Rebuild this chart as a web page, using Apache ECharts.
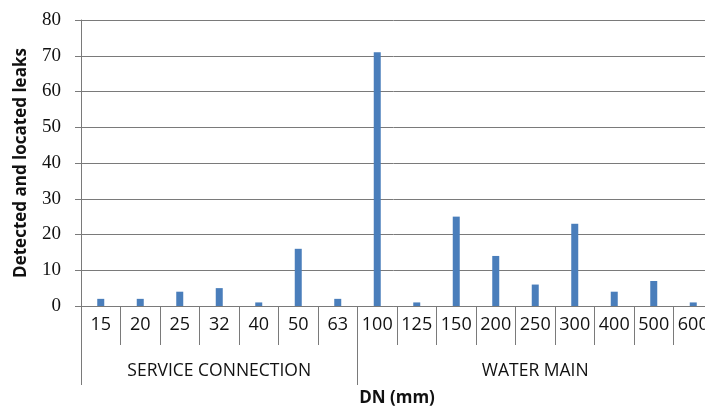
<!DOCTYPE html>
<html><head><meta charset="utf-8">
<script src="https://cdn.jsdelivr.net/npm/echarts@6/dist/echarts.min.js"></script>
<style>html,body{margin:0;padding:0;background:#fff;overflow:hidden}#c{width:705px;height:412px}</style>
</head><body><div id="c"></div>
<script>
const categories = ['15','20','25','32','40','50','63','100','125','150','200','250','300','400','500','600'];
const leaks = [2,2,4,5,1,16,2,71,1,25,14,6,23,4,7,1];
const groupLabels = ['','','','SERVICE CONNECTION','','','','','','','','WATER MAIN','','','',''];
const groupStarts = [0,7];
const yTicks = {min:0,max:80,interval:10};

const chart = echarts.init(document.getElementById('c'));
chart.setOption({
  animation:false,
  backgroundColor:'#fff',
  grid:{left:81,top:20,width:632,height:286,containLabel:false,outerBoundsMode:'none'},
  xAxis:[{
    type:'category', data:categories, position:'bottom',
    axisLine:{show:true,lineStyle:{color:'#7a7a7a',width:1}},
    axisTick:{show:true,length:39,lineStyle:{color:'#7a7a7a'}},
    axisLabel:{color:'#111',fontFamily:'Open Sans, sans-serif',fontSize:18,margin:10,interval:0},
    name:'DN (mm)', nameLocation:'middle', nameGap:84,
    nameTextStyle:{fontFamily:'Open Sans, sans-serif',fontWeight:'bold',fontSize:17,color:'#111'}
  },{
    type:'category', data:groupLabels, position:'bottom', offset:0,
    axisLine:{show:false},
    axisTick:{show:true,length:79,interval:function(i){return groupStarts.indexOf(i)>=0;},lineStyle:{color:'#7a7a7a'}},
    axisLabel:{show:true,interval:0,color:'#111',fontFamily:'Open Sans, sans-serif',fontSize:17.5,margin:56},
    splitLine:{show:false}
  }],
  yAxis:{
    type:'value', min:yTicks.min, max:yTicks.max, interval:yTicks.interval,
    axisLine:{show:true,lineStyle:{color:'#7a7a7a'}},
    axisTick:{show:true,length:6,lineStyle:{color:'#7a7a7a'}},
    splitLine:{show:true,lineStyle:{color:'#7a7a7a',width:1}},
    axisLabel:{color:'#111',fontFamily:'Liberation Serif, serif',fontSize:19,margin:20},
    name:'Detected and located leaks', nameLocation:'middle', nameGap:51,
    nameTextStyle:{fontFamily:'Open Sans, sans-serif',fontWeight:'bold',fontSize:17,color:'#111'}
  },
  series:[{
    type:'bar', data:leaks, xAxisIndex:0, barWidth:7,
    itemStyle:{color:'#4A7EBB'}
  }]
});
</script></body></html>
